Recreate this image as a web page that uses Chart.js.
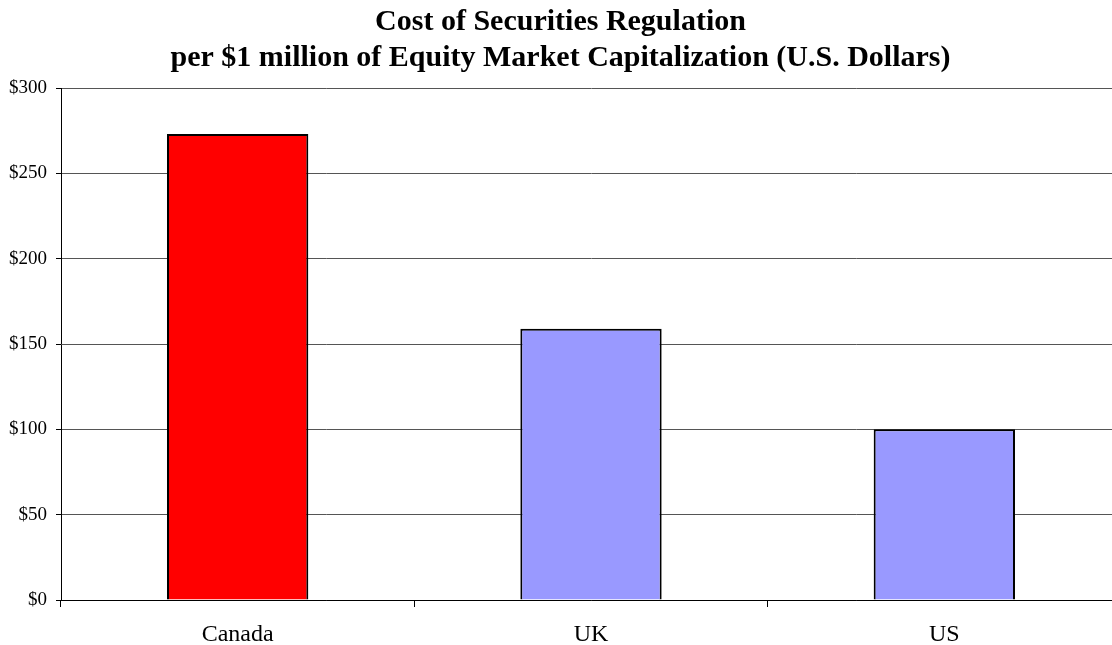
<!DOCTYPE html>
<html>
<head>
<meta charset="utf-8">
<script src="https://cdn.jsdelivr.net/npm/chart.js@4.4.0/dist/chart.umd.min.js"></script>
<style>
  body { margin: 0; overflow: hidden; background: #fff; }
  #wrap { width: 1121px; height: 645px; }
</style>
</head>
<body>
<div id="wrap"><canvas id="myChart"></canvas></div>
<script>
const countries = ['Canada', 'UK', 'US'];
const costPerMillion = [273, 159, 100];
const barColors = ['#ff0000', '#9999ff', '#9999ff'];
const titleLines = [
    'Cost of Securities Regulation',
    'per $1 million of Equity Market Capitalization (U.S. Dollars)'
];

const serif = "'Liberation Serif', 'Times New Roman', serif";

const data = {
    labels: countries,
    datasets: [{
        data: costPerMillion,
        backgroundColor: barColors,
        borderColor: '#000',
        borderWidth: 2,
        barPercentage: 0.4,
        categoryPercentage: 1.0
    }]
};

const config = {
    type: 'bar',
    data: data,
    options: {
        responsive: true,
        maintainAspectRatio: false,
        animation: false,
        layout: { padding: 0 },
        plugins: {
            legend: { display: false },
            tooltip: { enabled: false },
            title: {
                display: true,
                text: titleLines,
                color: '#000',
                font: { family: serif, size: 30, weight: 'bold', lineHeight: 1.2 },
                padding: { top: 4, bottom: 12 }
            }
        },
        scales: {
            x: {
                // keep the axis strip at a fixed height so the plot ends at y=600
                afterFit: (scale) => { scale.height = 45; },
                grid: {
                    drawOnChartArea: false,
                    drawTicks: true,
                    tickLength: 7,
                    color: '#000'
                },
                border: { color: '#000', width: 1 },
                ticks: {
                    color: '#000',
                    font: { family: serif, size: 24, lineHeight: 0.8 },
                    padding: 18
                }
            },
            y: {
                min: 0,
                max: 300,
                grid: {
                    color: '#555',
                    tickLength: 5,
                    tickColor: '#000'
                },
                border: { color: '#000', width: 1 },
                ticks: {
                    stepSize: 50,
                    color: '#000',
                    padding: 9,
                    font: { family: serif, size: 19 },
                    callback: (v) => '$' + v
                }
            }
        }
    }
};

let myChart = new Chart(document.getElementById('myChart'), config);
</script>
</body>
</html>
